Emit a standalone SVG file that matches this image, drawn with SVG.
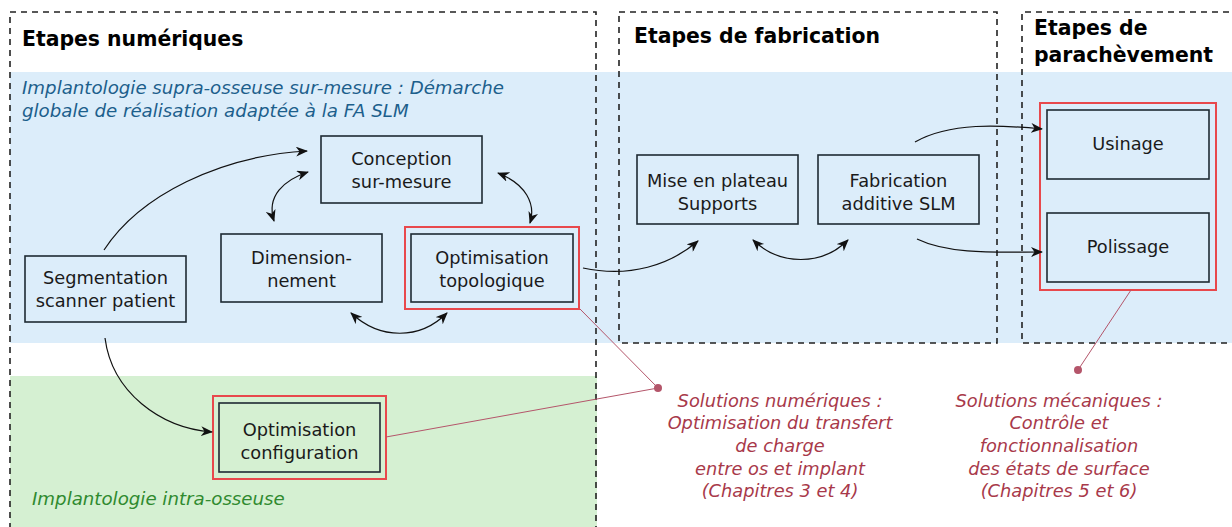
<svg xmlns="http://www.w3.org/2000/svg" width="1232" height="527" viewBox="0 0 1232 527">
<defs>
<marker id="ah" viewBox="0 0 12 10" refX="11" refY="5" markerWidth="12" markerHeight="10" markerUnits="userSpaceOnUse" orient="auto-start-reverse">
<path d="M0,0 L12,5 L0,10 L3.5,5 z" fill="#111"/>
</marker>
<style>
text{font-family:"DejaVu Sans","Verdana",sans-serif;}
.node{fill:none;stroke:#1e2a33;stroke-width:1.6;}
.red{fill:none;stroke:#e8484c;stroke-width:2;}
.frame{fill:none;stroke:#222;stroke-width:1.6;stroke-dasharray:6 5;}
.lbl{font-size:17.8px;fill:#1a1a1a;text-anchor:middle;}
.title{font-size:20.4px;font-weight:bold;fill:#000;}
.conn{fill:none;stroke:#111;stroke-width:1.2;}
.ann{fill:none;stroke:#b4556a;stroke-width:1;}
.atext{font-size:17.8px;font-style:italic;fill:#a8394a;text-anchor:middle;}
.band{font-size:18.2px;font-style:italic;}
</style>
</defs>
<rect width="1232" height="527" fill="#fff"/>
<!-- bands -->
<rect x="10" y="72" width="1222" height="271" fill="#dcedfa"/>
<rect x="10" y="376" width="587" height="151" fill="#d5f0d2"/>
<!-- frames -->
<g id="frame-numeriques">
<path class="frame" d="M10,540 V12 H596 V540"/>
<text class="title" x="22" y="46">Etapes numériques</text>
</g>
<g id="frame-fabrication">
<rect class="frame" x="619" y="12" width="378" height="331"/>
<text class="title" x="634" y="43">Etapes de fabrication</text>
</g>
<g id="frame-parachevement">
<path class="frame" d="M1240,12 H1022 V343 H1240"/>
<text class="title" x="1034" y="35">Etapes de</text>
<text class="title" x="1034" y="62">parachèvement</text>
</g>
<text class="band" x="22" y="94" fill="#1c5f8c">Implantologie supra-osseuse sur-mesure : Démarche</text>
<text class="band" x="22" y="117" fill="#1c5f8c">globale de réalisation adaptée à la FA SLM</text>
<text class="band" x="32" y="505" fill="#2f8a2f">Implantologie intra-osseuse</text>
<!-- nodes -->
<g id="conception">
<rect class="node" x="321" y="136" width="161" height="67"/>
<text class="lbl" x="401.5" y="165">Conception</text>
<text class="lbl" x="401.5" y="188">sur-mesure</text>
</g>
<g id="dimensionnement">
<rect class="node" x="221" y="234" width="161" height="68"/>
<text class="lbl" x="301.5" y="264">Dimension-</text>
<text class="lbl" x="301.5" y="287">nement</text>
</g>
<g id="optim-topo">
<rect class="red" x="405" y="227" width="174" height="82"/>
<rect class="node" x="411" y="234" width="162" height="68"/>
<text class="lbl" x="492" y="264">Optimisation</text>
<text class="lbl" x="492" y="287">topologique</text>
</g>
<g id="segmentation">
<rect class="node" x="25" y="256" width="161" height="66"/>
<text class="lbl" x="105.5" y="284">Segmentation</text>
<text class="lbl" x="105.5" y="307">scanner patient</text>
</g>
<g id="optim-config">
<rect class="red" x="213" y="396" width="173" height="83"/>
<rect class="node" x="219" y="403" width="161" height="69"/>
<text class="lbl" x="299.5" y="436">Optimisation</text>
<text class="lbl" x="299.5" y="459">configuration</text>
</g>
<g id="mise-en-plateau">
<rect class="node" x="637" y="155" width="161" height="69"/>
<text class="lbl" x="717.5" y="187">Mise en plateau</text>
<text class="lbl" x="717.5" y="210">Supports</text>
</g>
<g id="fabrication">
<rect class="node" x="818" y="155" width="161" height="69"/>
<text class="lbl" x="898.5" y="187">Fabrication</text>
<text class="lbl" x="898.5" y="210">additive SLM</text>
</g>
<g id="parachevement-group">
<rect class="red" x="1040" y="103" width="176" height="187"/>
</g>
<g id="usinage">
<rect class="node" x="1047" y="110" width="162" height="69"/>
<text class="lbl" x="1128" y="150">Usinage</text>
</g>
<g id="polissage">
<rect class="node" x="1047" y="213" width="162" height="69"/>
<text class="lbl" x="1128" y="253">Polissage</text>
</g>
<!-- annotations -->
<g id="annotation-numeriques">
<text class="atext" x="780" y="407">Solutions numériques :</text>
<text class="atext" x="780" y="429">Optimisation du transfert</text>
<text class="atext" x="780" y="452">de charge</text>
<text class="atext" x="780" y="475">entre os et implant</text>
<text class="atext" x="780" y="497">(Chapitres 3 et 4)</text>
</g>
<g id="annotation-mecaniques">
<text class="atext" x="1059" y="407">Solutions mécaniques :</text>
<text class="atext" x="1059" y="429">Contrôle et</text>
<text class="atext" x="1059" y="452">fonctionnalisation</text>
<text class="atext" x="1059" y="475">des états de surface</text>
<text class="atext" x="1059" y="497">(Chapitres 5 et 6)</text>
</g>
<!-- connectors -->
<g id="connectors">
<path class="conn" marker-end="url(#ah)" d="M104,250 C140,195 220,156 307,151"/>
<path class="conn" marker-start="url(#ah)" marker-end="url(#ah)" d="M274,221 C266,196 284,180 308,172"/>
<path class="conn" marker-start="url(#ah)" marker-end="url(#ah)" d="M498,173 C526,184 536,204 530,223"/>
<path class="conn" marker-start="url(#ah)" marker-end="url(#ah)" d="M351,313 C380,340 420,340 447,313"/>
<path class="conn" marker-end="url(#ah)" d="M583,268 C630,278 670,265 698,241"/>
<path class="conn" marker-start="url(#ah)" marker-end="url(#ah)" d="M753,240 C780,266 822,266 848,240"/>
<path class="conn" marker-end="url(#ah)" d="M915,142 C950,122 1000,125 1042,129"/>
<path class="conn" marker-end="url(#ah)" d="M917,239 C950,255 1000,252 1042,252"/>
<path class="conn" marker-end="url(#ah)" d="M105,338 C112,392 160,428 212,432"/>
<path class="ann" d="M580,309 L658,388 L386,437"/>
<path class="ann" d="M1131,290 L1078,370"/>
<circle cx="658" cy="388" r="4" fill="#b4556a"/>
<circle cx="1078" cy="370" r="4" fill="#b4556a"/>
</g>
</svg>
